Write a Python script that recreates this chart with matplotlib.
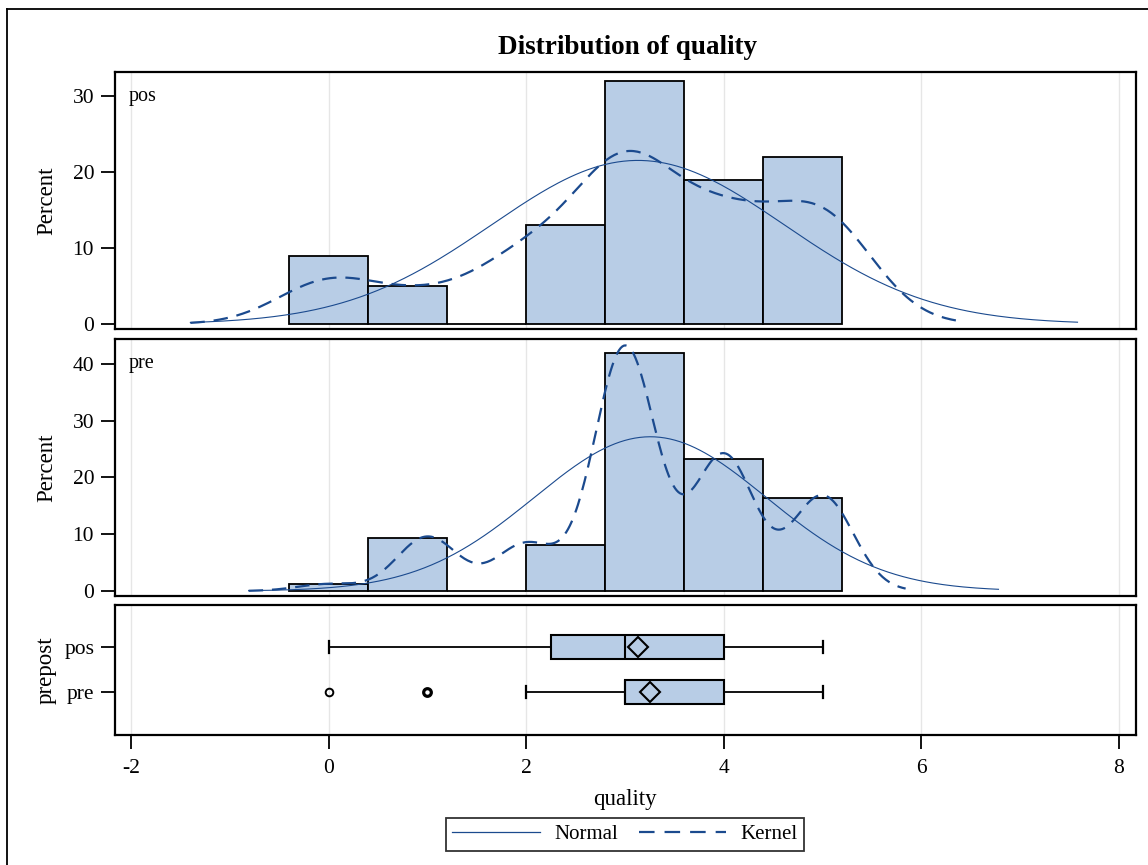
import numpy as np
import matplotlib
matplotlib.use("Agg")
import matplotlib.pyplot as plt
from matplotlib.lines import Line2D

plt.rcParams['font.family'] = ['Liberation Serif', 'DejaVu Serif']

# quality values and percent of observations per value
quality_values = [0, 1, 2, 3, 4, 5]
pos_pct = [9.0, 5.0, 13.0, 32.0, 19.0, 22.0]
pre_pct = [1.2, 9.3, 8.1, 41.9, 23.3, 16.3]
bin_edges = [-0.4, 0.4, 1.2, 2.0, 2.8, 3.6, 4.4, 5.2]

# kernel bandwidths and drawn ranges of the fitted curves
pos_bw = 0.52
pre_bw = 0.31
pos_normal_range = (-1.40, 7.58)
pos_kernel_range = (-1.40, 6.42)
pre_normal_range = (-0.81, 6.78)
pre_kernel_range = (-0.81, 5.84)

# box plot summaries (pre, pos)
box_groups = ['pre', 'pos']
box_q1 = [3.0, 2.25]
box_med = [3.0, 3.0]
box_q3 = [4.0, 4.0]
box_wlo = [2.0, 0.0]
box_whi = [5.0, 5.0]
box_out = [[0.0, 1.0], []]

fill = '#b8cde6'
curve = '#1b4a8e'
grid_c = '#e6e6e6'


def normal_curve(vals, pct, rng):
    vals = np.array(vals, float)
    w = np.array(pct, float) / np.sum(pct)
    mu = np.sum(w * vals)
    sd = np.sqrt(np.sum(w * (vals - mu) ** 2))
    x = np.linspace(rng[0], rng[1], 300)
    y = 100 * 0.8 * np.exp(-0.5 * ((x - mu) / sd) ** 2) / (sd * np.sqrt(2 * np.pi))
    return x, y


def kernel_curve(vals, pct, bw, rng):
    vals = np.array(vals, float)
    w = np.array(pct, float) / np.sum(pct)
    x = np.linspace(rng[0], rng[1], 400)
    z = (x[:, None] - vals[None, :]) / bw
    dens = np.sum(w * np.exp(-0.5 * z ** 2), axis=1) / (bw * np.sqrt(2 * np.pi))
    return x, 100 * 0.8 * dens


fig = plt.figure(figsize=(11.48, 8.65), dpi=100)
W, H = 1148, 865
left = 115 / W
width = (1136 - 115) / W


def px_axes(top, bottom):
    return fig.add_axes([left, 1 - bottom / H, width, (bottom - top) / H])


ax1 = px_axes(72, 329)
ax2 = px_axes(339, 596)
ax3 = px_axes(605, 735)

xticks = [-2, 0, 2, 4, 6, 8]

for ax, pct, bw, nr, kr, lab, ylim, yt in [
        (ax1, pos_pct, pos_bw, pos_normal_range, pos_kernel_range, 'pos',
         (-0.66, 33.2), [0, 10, 20, 30]),
        (ax2, pre_pct, pre_bw, pre_normal_range, pre_kernel_range, 'pre',
         (-0.88, 44.4), [0, 10, 20, 30, 40])]:
    for xt in xticks:
        ax.axvline(xt, color=grid_c, lw=1.0, zorder=0)
    ax.hist(quality_values, bins=bin_edges, weights=pct, facecolor=fill,
            edgecolor='black', linewidth=1.3, zorder=2)
    xn, yn = normal_curve(quality_values, pct, nr)
    ax.plot(xn, yn, color=curve, lw=0.8, zorder=3)
    xk, yk = kernel_curve(quality_values, pct, bw, kr)
    ax.plot(xk, yk, color=curve, lw=1.6, dashes=(6.5, 4), zorder=3)
    ax.set_ylim(*ylim)
    ax.set_yticks(yt)
    ax.set_xticks([])
    ax.text(0.013, 0.905, lab, transform=ax.transAxes, fontsize=14.5,
            ha='left', va='center')
    ax.set_ylabel('Percent', fontsize=16.5)
    ax.yaxis.set_label_coords(-0.057, 0.5)

# box plot panel
for xt in xticks:
    ax3.axvline(xt, color=grid_c, lw=1.0, zorder=0)
stats = []
for i in range(len(box_groups)):
    stats.append(dict(label=box_groups[i], q1=box_q1[i], med=box_med[i],
                      q3=box_q3[i], whislo=box_wlo[i], whishi=box_whi[i],
                      fliers=box_out[i]))
ax3.bxp(stats, positions=[0, 1], widths=0.52, capwidths=0.27, vert=False,
        patch_artist=True, showfliers=False,
        boxprops=dict(facecolor=fill, edgecolor='black', linewidth=1.5),
        medianprops=dict(color='black', linewidth=1.5),
        whiskerprops=dict(color='black', linewidth=1.3),
        capprops=dict(color='black', linewidth=1.6), zorder=2)
for i in range(len(box_groups)):
    vals = np.array(quality_values, float)
    pct = np.array(pos_pct if box_groups[i] == 'pos' else pre_pct)
    mean = np.sum(vals * pct) / np.sum(pct)
    ax3.plot(mean, i, marker='D', ms=10, mfc='none', mec='black', mew=1.5,
             zorder=4)
    for j, o in enumerate(box_out[i]):
        ax3.plot(o, i, marker='o', ms=5.5, mfc='none', mec='black',
                 mew=1.4 + 0.9 * j, zorder=4)
ax3.set_ylim(-0.956, 1.933)
ax3.set_yticks([0, 1])
ax3.set_yticklabels(box_groups)
ax3.set_xticks(xticks)
ax3.set_xticklabels([str(v) for v in xticks])
ax3.set_ylabel('prepost', fontsize=16.5)
ax3.yaxis.set_label_coords(-0.057, 0.5)

for ax in (ax1, ax2, ax3):
    ax.set_xlim(-2.163, 8.172)
    for s in ax.spines.values():
        s.set_linewidth(1.6)
    ax.tick_params(axis='both', direction='out', length=10, width=1.3,
                   labelsize=15.5, pad=5)
ax3.tick_params(axis='x', pad=7)

fig.text(627 / W, 1 - 47 / H, 'Distribution of quality', ha='center',
         va='center', fontsize=19.5, fontweight='bold')
fig.text(625 / W, 1 - 800 / H, 'quality', ha='center', va='center',
         fontsize=16.5)

handles = [Line2D([], [], color=curve, lw=0.9),
           Line2D([], [], color=curve, lw=1.6, dashes=(7, 4.5))]
leg = fig.legend(handles, ['Normal', 'Kernel'], ncol=2, loc='center',
                 bbox_to_anchor=(625 / W, 1 - 834.5 / H), fontsize=15,
                 frameon=True, fancybox=False, edgecolor='black',
                 handlelength=4.2, columnspacing=1.0, handletextpad=0.7,
                 borderpad=0.3, borderaxespad=0)
leg.get_frame().set_linewidth(1.3)

# outer border (left and top edges visible)
fig.add_artist(Line2D([7 / W, 7 / W], [1 - 9 / H, 0], color='black', lw=1.3,
                      transform=fig.transFigure))
fig.add_artist(Line2D([7 / W, 1], [1 - 9 / H, 1 - 9 / H], color='black',
                      lw=1.3, transform=fig.transFigure))

fig.savefig('out.png', dpi=100)
